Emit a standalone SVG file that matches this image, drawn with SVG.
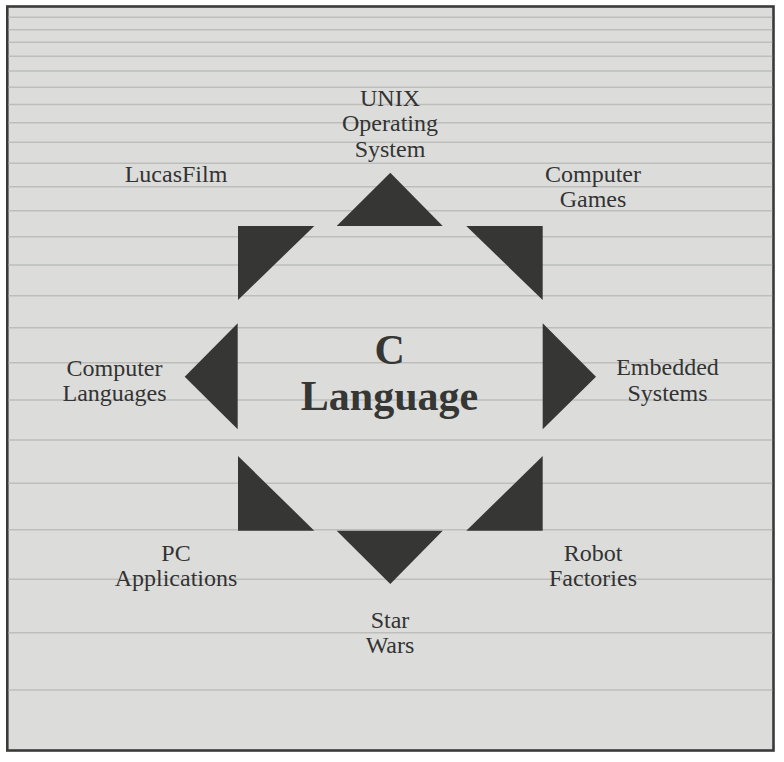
<svg xmlns="http://www.w3.org/2000/svg" width="784" height="762" viewBox="0 0 784 762">
<style>
.bg{fill:#dcdddb;stroke:#3a3a3a;stroke-width:2.6}
.ln{stroke:#bdbebc;stroke-width:1.6}
.tri{fill:#363634}
.lbl{font-family:"Liberation Serif","Times New Roman",serif;font-size:24px;fill:#333;text-anchor:middle}
.ctr{font-family:"Liberation Serif","Times New Roman",serif;font-size:42px;font-weight:bold;fill:#363634;text-anchor:middle}
</style>
<rect id="frame" class="bg" x="7.3" y="6.5" width="766.2" height="744"/>
<g id="lines">
<line class="ln" x1="8.6" x2="772.2" y1="17.3" y2="17.3"/>
<line class="ln" x1="8.6" x2="772.2" y1="29.7" y2="29.7"/>
<line class="ln" x1="8.6" x2="772.2" y1="42.3" y2="42.3"/>
<line class="ln" x1="8.6" x2="772.2" y1="56.3" y2="56.3"/>
<line class="ln" x1="8.6" x2="772.2" y1="71" y2="71"/>
<line class="ln" x1="8.6" x2="772.2" y1="87.3" y2="87.3"/>
<line class="ln" x1="8.6" x2="772.2" y1="104.5" y2="104.5"/>
<line class="ln" x1="8.6" x2="772.2" y1="122.7" y2="122.7"/>
<line class="ln" x1="8.6" x2="772.2" y1="142.3" y2="142.3"/>
<line class="ln" x1="8.6" x2="772.2" y1="163.3" y2="163.3"/>
<line class="ln" x1="8.6" x2="772.2" y1="186.7" y2="186.7"/>
<line class="ln" x1="8.6" x2="772.2" y1="210.7" y2="210.7"/>
<line class="ln" x1="8.6" x2="772.2" y1="236.7" y2="236.7"/>
<line class="ln" x1="8.6" x2="772.2" y1="265" y2="265"/>
<line class="ln" x1="8.6" x2="772.2" y1="295.7" y2="295.7"/>
<line class="ln" x1="8.6" x2="772.2" y1="327.7" y2="327.7"/>
<line class="ln" x1="8.6" x2="772.2" y1="362.7" y2="362.7"/>
<line class="ln" x1="8.6" x2="772.2" y1="400" y2="400"/>
<line class="ln" x1="8.6" x2="772.2" y1="440" y2="440"/>
<line class="ln" x1="8.6" x2="772.2" y1="483.3" y2="483.3"/>
<line class="ln" x1="8.6" x2="772.2" y1="529.7" y2="529.7"/>
<line class="ln" x1="8.6" x2="772.2" y1="579.3" y2="579.3"/>
<line class="ln" x1="8.6" x2="772.2" y1="632.7" y2="632.7"/>
<line class="ln" x1="8.6" x2="772.2" y1="690" y2="690"/>
</g>
<g id="connectors">
<polygon id="tri-n" class="tri" points="390.3,172.7 442.7,226 336.7,226"/>
<polygon id="tri-ne" class="tri" points="466.3,226 542.7,226 542.7,300"/>
<polygon id="tri-e" class="tri" points="542.7,323.3 596,376.7 542.7,429.3"/>
<polygon id="tri-se" class="tri" points="542.7,456 542.7,530.7 466.3,530.7"/>
<polygon id="tri-s" class="tri" points="336.7,530.7 442.7,530.7 390.3,584"/>
<polygon id="tri-sw" class="tri" points="238,456 314.3,530.7 238,530.7"/>
<polygon id="tri-w" class="tri" points="237.7,323.3 237.7,429.3 184.7,376.7"/>
<polygon id="tri-nw" class="tri" points="238,226 314.3,226 238,300"/>
</g>
<g id="center">
<text class="ctr" x="389.7" y="364">C</text>
<text class="ctr" x="389.5" y="410">Language</text>
</g>
<g id="unix"><text class="lbl" x="390" y="105.5">UNIX</text><text class="lbl" x="390" y="131">Operating</text><text class="lbl" x="390" y="156.5">System</text></g>
<g id="lucasfilm"><text class="lbl" x="176" y="181.5">LucasFilm</text></g>
<g id="games"><text class="lbl" x="593" y="181.5">Computer</text><text class="lbl" x="593" y="207">Games</text></g>
<g id="languages"><text class="lbl" x="114.5" y="375.5">Computer</text><text class="lbl" x="114.5" y="400.5">Languages</text></g>
<g id="embedded"><text class="lbl" x="667.5" y="375">Embedded</text><text class="lbl" x="667.5" y="400.5">Systems</text></g>
<g id="pc"><text class="lbl" x="176" y="560.5">PC</text><text class="lbl" x="176" y="586">Applications</text></g>
<g id="robot"><text class="lbl" x="593" y="560.5">Robot</text><text class="lbl" x="593" y="586">Factories</text></g>
<g id="starwars"><text class="lbl" x="390" y="627.5">Star</text><text class="lbl" x="390" y="652.5">Wars</text></g>
</svg>
